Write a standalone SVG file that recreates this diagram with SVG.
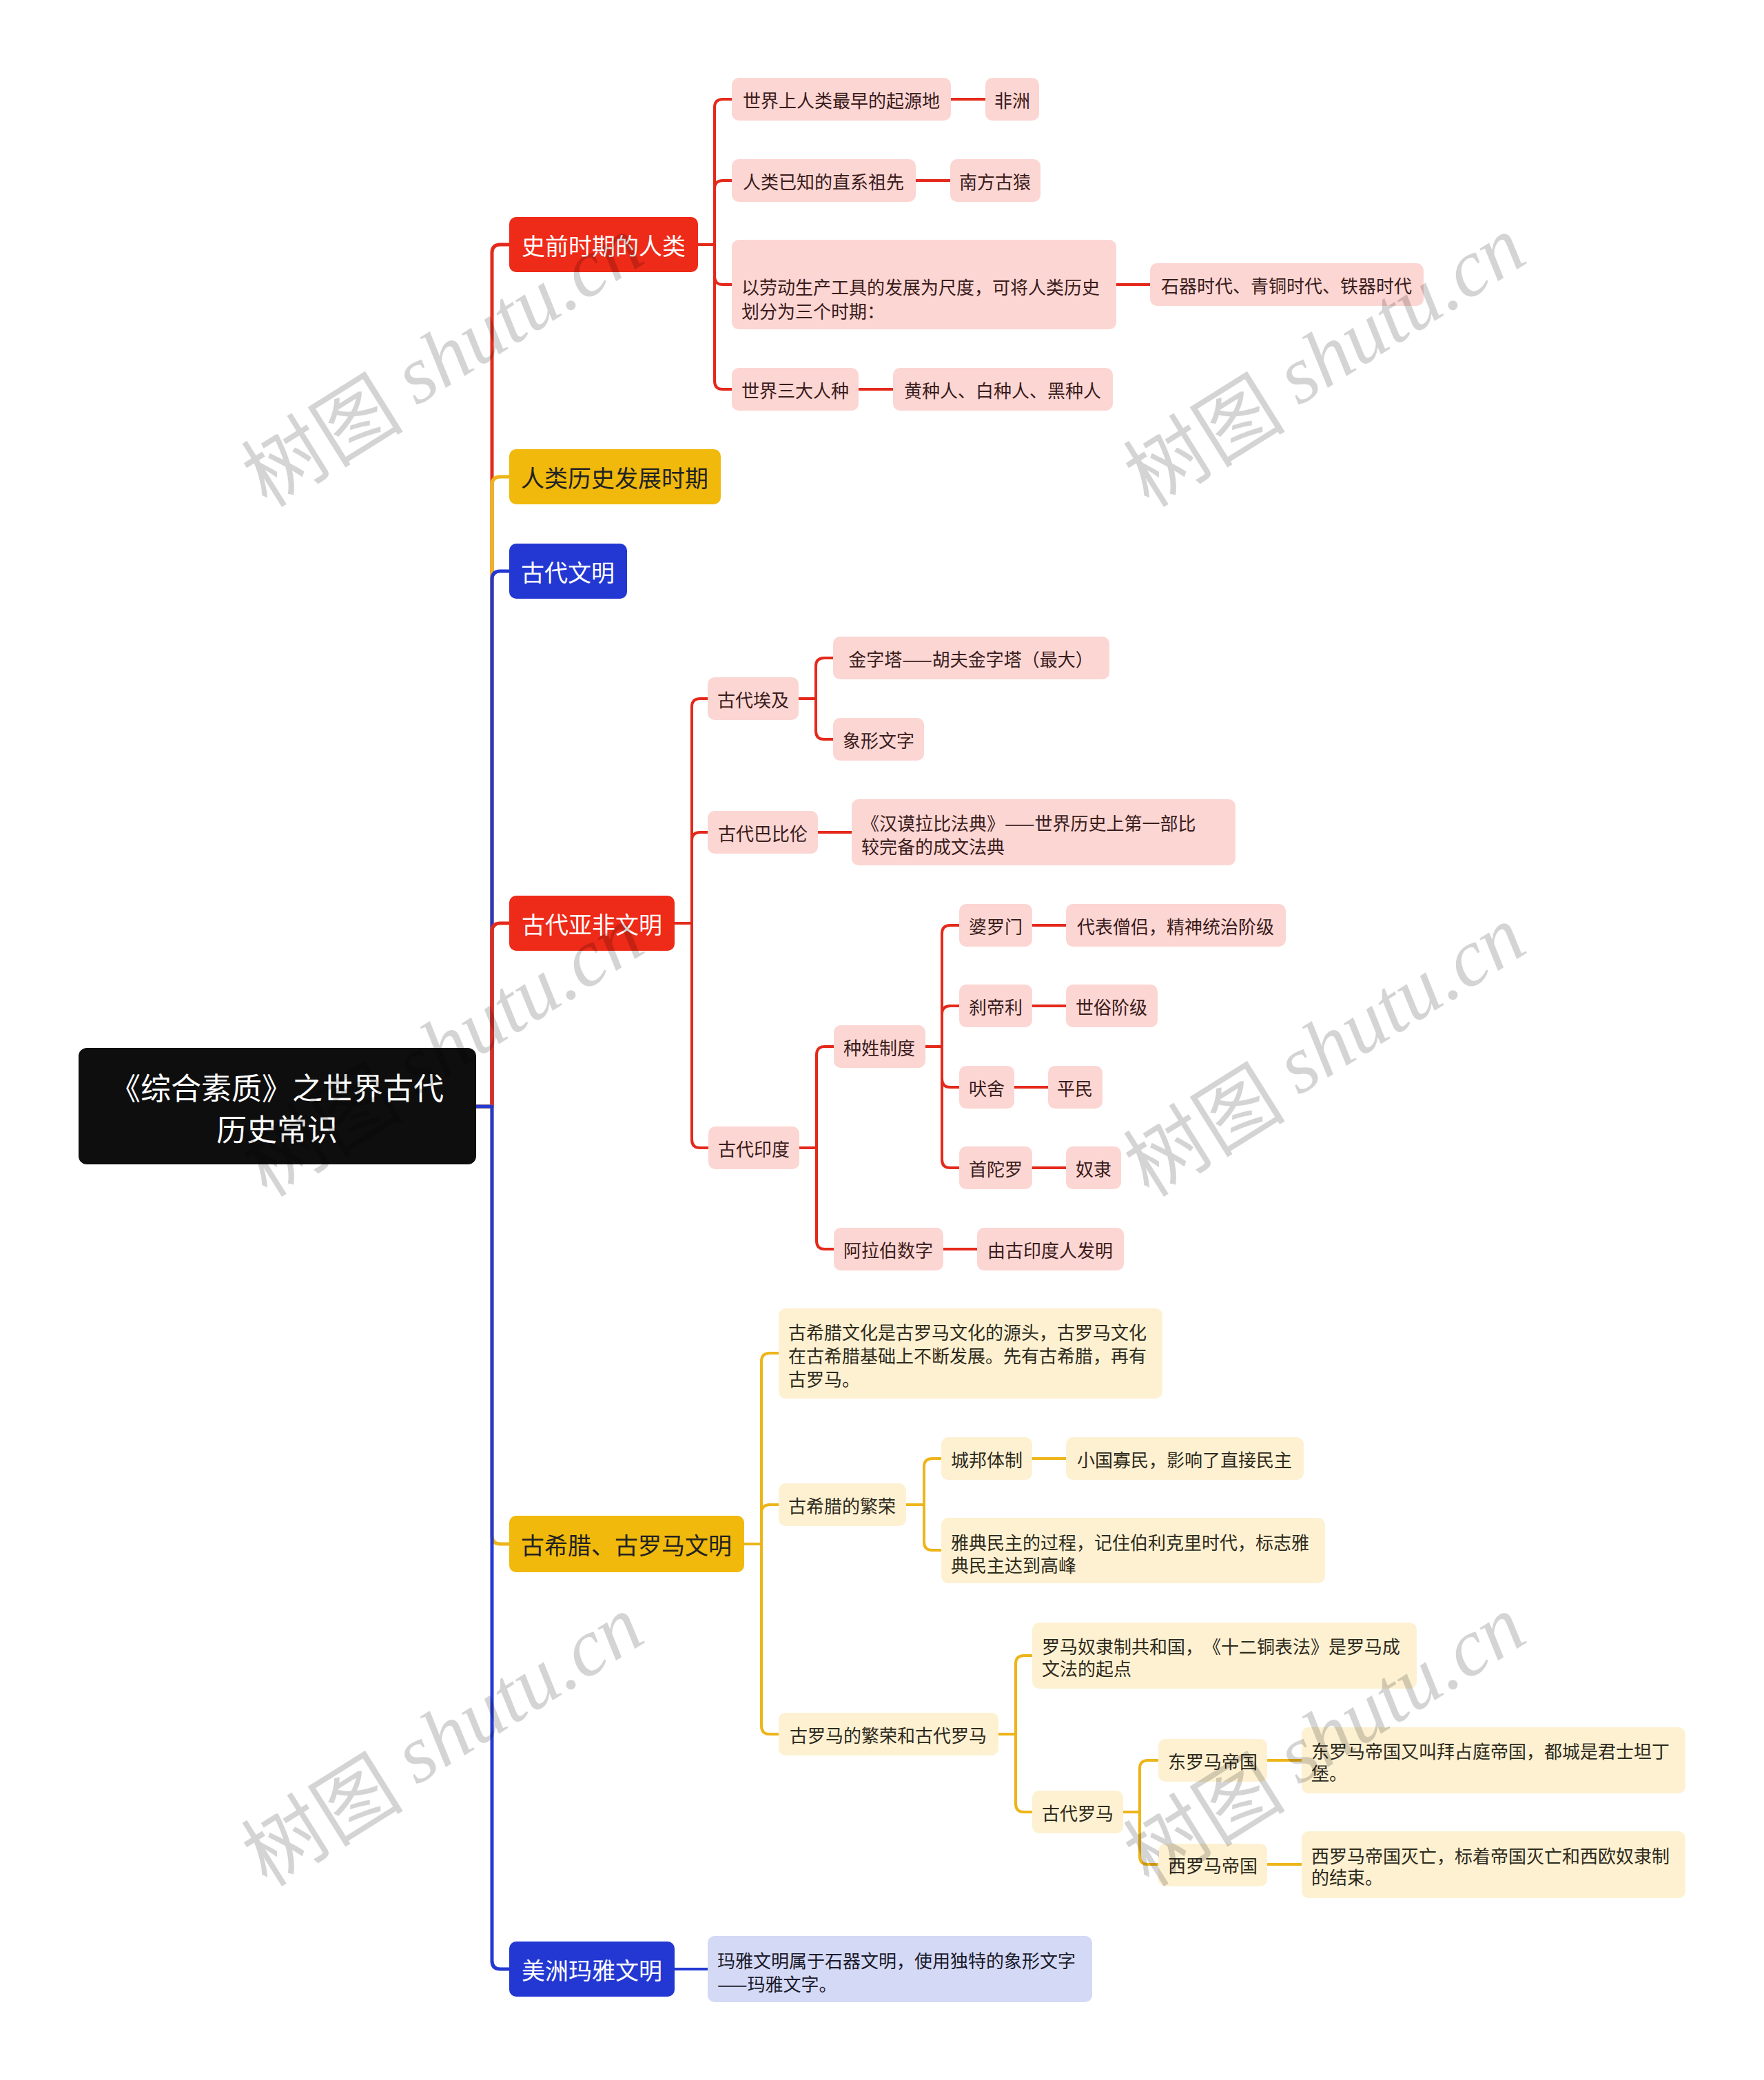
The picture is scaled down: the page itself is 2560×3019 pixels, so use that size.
<svg xmlns="http://www.w3.org/2000/svg" width="2560" height="3019" viewBox="0 0 2560 3019">
<style>
text{font-family:"Noto Sans CJK SC","Noto Sans",sans-serif;text-spacing-trim:space-all;}
.c{fill:none;stroke-linecap:round;stroke-linejoin:round}
.cm{stroke-width:5}
.cs{stroke-width:4}
.sr{stroke:#E4291B}
.sy{stroke:#EDB51A}
.sb{stroke:#2338D2}
.root{fill:#0E0E0E}
.mr{fill:#EE2A18}
.my{fill:#F0B90C}
.mb{fill:#2338D2}
.pk{fill:#FCD6D3}
.ly{fill:#FDF1D2}
.lb{fill:#D4D9F5}
.tw{fill:#FFFFFF;font-size:34px}
.td{fill:#222222;font-size:34px}
.tp{fill:#3A1C1C;font-size:26px}
.tyl{fill:#2E2A1C;font-size:26px}
.tbl{fill:#1A1A2A;font-size:26px}
.mid{text-anchor:middle;dominant-baseline:central}
.st{dominant-baseline:central}
.wm{fill:#000000;fill-opacity:0.17;font-size:118px}
</style>

<g id="connectors">
  <path class="c cm sr" d="M691,1606 H714 V367 Q714,355 726,355 H739"/>
  <path class="c cm sy" d="M691,1606 H714 V704 Q714,692 726,692 H739"/>
  <path class="c cm sb" d="M691,1606 H714 V841 Q714,829 726,829 H739"/>
  <path class="c cm sr" d="M691,1606 H714 V1352 Q714,1340 726,1340 H739"/>
  <path class="c cm sy" d="M691,1606 H714 V2229 Q714,2241 726,2241 H739"/>
  <path class="c cm sb" d="M691,1606 H714 V2846 Q714,2858 726,2858 H739"/>

  <path class="c cs sr" d="M1013,355 H1037 V156 Q1037,144 1049,144 H1062"/>
  <path class="c cs sr" d="M1013,355 H1037 V274 Q1037,262 1049,262 H1062"/>
  <path class="c cs sr" d="M1013,355 H1037 V401 Q1037,413 1049,413 H1062"/>
  <path class="c cs sr" d="M1013,355 H1037 V553 Q1037,565 1049,565 H1062"/>
  <path class="c cs sr" d="M1380,144 H1430"/>
  <path class="c cs sr" d="M1329,262 H1379"/>
  <path class="c cs sr" d="M1620,413 H1669"/>
  <path class="c cs sr" d="M1246,565 H1296"/>

  <path class="c cs sr" d="M979,1340 H1004 V1026 Q1004,1014 1016,1014 H1027"/>
  <path class="c cs sr" d="M979,1340 H1004 V1220 Q1004,1208 1016,1208 H1027"/>
  <path class="c cs sr" d="M979,1340 H1004 V1654 Q1004,1666 1016,1666 H1028"/>
  <path class="c cs sr" d="M1159,1014 H1184 V967 Q1184,955 1196,955 H1209"/>
  <path class="c cs sr" d="M1159,1014 H1184 V1061 Q1184,1073 1196,1073 H1209"/>
  <path class="c cs sr" d="M1187,1208 H1236"/>
  <path class="c cs sr" d="M1160,1666 H1185 V1531 Q1185,1519 1197,1519 H1210"/>
  <path class="c cs sr" d="M1160,1666 H1185 V1801 Q1185,1813 1197,1813 H1210"/>
  <path class="c cs sr" d="M1343,1519 H1367 V1355 Q1367,1343 1379,1343 H1392"/>
  <path class="c cs sr" d="M1343,1519 H1367 V1472 Q1367,1460 1379,1460 H1392"/>
  <path class="c cs sr" d="M1343,1519 H1367 V1566 Q1367,1578 1379,1578 H1392"/>
  <path class="c cs sr" d="M1343,1519 H1367 V1683 Q1367,1695 1379,1695 H1392"/>
  <path class="c cs sr" d="M1498,1343 H1547"/>
  <path class="c cs sr" d="M1498,1460 H1547"/>
  <path class="c cs sr" d="M1472,1578 H1521"/>
  <path class="c cs sr" d="M1498,1695 H1547"/>
  <path class="c cs sr" d="M1369,1813 H1418"/>

  <path class="c cs sy" d="M1080,2241 H1105 V1976 Q1105,1964 1117,1964 H1130"/>
  <path class="c cs sy" d="M1080,2241 H1105 V2196 Q1105,2184 1117,2184 H1130"/>
  <path class="c cs sy" d="M1080,2241 H1105 V2505 Q1105,2517 1117,2517 H1130"/>
  <path class="c cs sy" d="M1315,2184 H1341 V2129 Q1341,2117 1353,2117 H1366"/>
  <path class="c cs sy" d="M1315,2184 H1341 V2238 Q1341,2250 1353,2250 H1366"/>
  <path class="c cs sy" d="M1498,2117 H1547"/>
  <path class="c cs sy" d="M1449,2517 H1474 V2415 Q1474,2403 1486,2403 H1498"/>
  <path class="c cs sy" d="M1449,2517 H1474 V2618 Q1474,2630 1486,2630 H1498"/>
  <path class="c cs sy" d="M1630,2630 H1654 V2567 Q1654,2555 1666,2555 H1681"/>
  <path class="c cs sy" d="M1630,2630 H1654 V2694 Q1654,2706 1666,2706 H1681"/>
  <path class="c cs sy" d="M1839,2555 H1889"/>
  <path class="c cs sy" d="M1839,2706 H1889"/>

  <path class="c cs sb" d="M979,2858 H1027"/>
</g>

<g id="root"><rect class="root" x="114" y="1521" width="577" height="169" rx="12"/>
  <text class="tw mid" x="402" y="1577" style="font-size:44px">《综合素质》之世界古代</text>
  <text class="tw mid" x="402" y="1637" style="font-size:44px">历史常识</text></g>

<g id="n-shiqian"><rect class="mr" x="739" y="315" width="274" height="80" rx="10"/><text class="tw mid" x="876" y="355">史前时期的人类</text></g>
<g id="n-renlei"><rect class="my" x="739" y="652" width="307" height="80" rx="10"/><text class="td mid" x="892" y="692">人类历史发展时期</text></g>
<g id="n-gudai"><rect class="mb" x="739" y="789" width="171" height="80" rx="10"/><text class="tw mid" x="824" y="829">古代文明</text></g>
<g id="n-yafei"><rect class="mr" x="739" y="1300" width="240" height="80" rx="10"/><text class="tw mid" x="859" y="1340">古代亚非文明</text></g>
<g id="n-xila"><rect class="my" x="739" y="2200" width="341" height="82" rx="10"/><text class="td mid" x="909" y="2241">古希腊、古罗马文明</text></g>
<g id="n-maya"><rect class="mb" x="739" y="2818" width="240" height="80" rx="10"/><text class="tw mid" x="859" y="2858">美洲玛雅文明</text></g>

<g id="n-qiyuan"><rect class="pk" x="1062" y="113" width="318" height="62" rx="10"/><text class="tp mid" x="1221" y="144">世界上人类最早的起源地</text></g>
<g id="n-feizhou"><rect class="pk" x="1430" y="113" width="78" height="62" rx="10"/><text class="tp mid" x="1469" y="144">非洲</text></g>
<g id="n-zuxian"><rect class="pk" x="1062" y="231" width="267" height="62" rx="10"/><text class="tp mid" x="1195" y="262">人类已知的直系祖先</text></g>
<g id="n-nanfang"><rect class="pk" x="1379" y="231" width="131" height="62" rx="10"/><text class="tp mid" x="1444" y="262">南方古猿</text></g>
<g id="n-laodong"><rect class="pk" x="1062" y="348" width="558" height="130" rx="10"/>
  <text class="tp st" x="1076" y="415">以劳动生产工具的发展为尺度，可将人类历史</text>
  <text class="tp st" x="1076" y="450">划分为三个时期：</text></g>
<g id="n-shiqi"><rect class="pk" x="1669" y="382" width="397" height="62" rx="10"/><text class="tp mid" x="1867" y="413">石器时代、青铜时代、铁器时代</text></g>
<g id="n-renzhong"><rect class="pk" x="1062" y="534" width="184" height="62" rx="10"/><text class="tp mid" x="1154" y="565">世界三大人种</text></g>
<g id="n-huang"><rect class="pk" x="1296" y="534" width="319" height="62" rx="10"/><text class="tp mid" x="1455" y="565">黄种人、白种人、黑种人</text></g>

<g id="n-aiji"><rect class="pk" x="1027" y="983" width="132" height="62" rx="10"/><text class="tp mid" x="1093" y="1014">古代埃及</text></g>
<g id="n-jinzita"><rect class="pk" x="1209" y="924" width="401" height="62" rx="10"/><text class="tp mid" x="1409" y="955">金字塔——胡夫金字塔（最大）</text></g>
<g id="n-xiangxing"><rect class="pk" x="1209" y="1042" width="132" height="62" rx="10"/><text class="tp mid" x="1275" y="1073">象形文字</text></g>
<g id="n-babilun"><rect class="pk" x="1027" y="1177" width="160" height="62" rx="10"/><text class="tp mid" x="1107" y="1208">古代巴比伦</text></g>
<g id="n-fadian"><rect class="pk" x="1236" y="1160" width="557" height="96" rx="10"/>
  <text class="tp st" x="1250" y="1193">《汉谟拉比法典》——世界历史上第一部比</text>
  <text class="tp st" x="1250" y="1227">较完备的成文法典</text></g>
<g id="n-yindu"><rect class="pk" x="1028" y="1635" width="132" height="62" rx="10"/><text class="tp mid" x="1094" y="1666">古代印度</text></g>
<g id="n-zhongxing"><rect class="pk" x="1210" y="1488" width="133" height="62" rx="10"/><text class="tp mid" x="1276" y="1519">种姓制度</text></g>
<g id="n-alabo"><rect class="pk" x="1210" y="1782" width="159" height="62" rx="10"/><text class="tp mid" x="1289" y="1813">阿拉伯数字</text></g>
<g id="n-faming"><rect class="pk" x="1418" y="1782" width="213" height="62" rx="10"/><text class="tp mid" x="1524" y="1813">由古印度人发明</text></g>
<g id="n-poluomen"><rect class="pk" x="1392" y="1312" width="106" height="62" rx="10"/><text class="tp mid" x="1445" y="1343">婆罗门</text></g>
<g id="n-sengl"><rect class="pk" x="1547" y="1312" width="319" height="62" rx="10"/><text class="tp mid" x="1706" y="1343">代表僧侣，精神统治阶级</text></g>
<g id="n-chadili"><rect class="pk" x="1392" y="1429" width="106" height="62" rx="10"/><text class="tp mid" x="1445" y="1460">刹帝利</text></g>
<g id="n-shisu"><rect class="pk" x="1547" y="1429" width="133" height="62" rx="10"/><text class="tp mid" x="1613" y="1460">世俗阶级</text></g>
<g id="n-feishe"><rect class="pk" x="1392" y="1547" width="80" height="62" rx="10"/><text class="tp mid" x="1432" y="1578">吠舍</text></g>
<g id="n-pingmin"><rect class="pk" x="1521" y="1547" width="79" height="62" rx="10"/><text class="tp mid" x="1560" y="1578">平民</text></g>
<g id="n-shoutuo"><rect class="pk" x="1392" y="1664" width="106" height="62" rx="10"/><text class="tp mid" x="1445" y="1695">首陀罗</text></g>
<g id="n-nuli"><rect class="pk" x="1547" y="1664" width="80" height="62" rx="10"/><text class="tp mid" x="1587" y="1695">奴隶</text></g>

<g id="n-xilawenhua"><rect class="ly" x="1130" y="1899" width="557" height="131" rx="10"/>
  <text class="tyl st" x="1144" y="1932">古希腊文化是古罗马文化的源头，古罗马文化</text>
  <text class="tyl st" x="1144" y="1966">在古希腊基础上不断发展。先有古希腊，再有</text>
  <text class="tyl st" x="1144" y="2000">古罗马。</text></g>
<g id="n-xilafanrong"><rect class="ly" x="1130" y="2153" width="185" height="62" rx="10"/><text class="tyl mid" x="1222" y="2184">古希腊的繁荣</text></g>
<g id="n-chengbang"><rect class="ly" x="1366" y="2086" width="132" height="62" rx="10"/><text class="tyl mid" x="1432" y="2117">城邦体制</text></g>
<g id="n-xiaoguo"><rect class="ly" x="1547" y="2086" width="345" height="62" rx="10"/><text class="tyl mid" x="1719" y="2117">小国寡民，影响了直接民主</text></g>
<g id="n-yadian"><rect class="ly" x="1366" y="2203" width="557" height="95" rx="10"/>
  <text class="tyl st" x="1380" y="2237">雅典民主的过程，记住伯利克里时代，标志雅</text>
  <text class="tyl st" x="1380" y="2270">典民主达到高峰</text></g>
<g id="n-luomafanrong"><rect class="ly" x="1130" y="2486" width="319" height="62" rx="10"/><text class="tyl mid" x="1289" y="2517">古罗马的繁荣和古代罗马</text></g>
<g id="n-gongheguo"><rect class="ly" x="1498" y="2355" width="558" height="96" rx="10"/>
  <text class="tyl st" x="1512" y="2388">罗马奴隶制共和国，《十二铜表法》是罗马成</text>
  <text class="tyl st" x="1512" y="2420">文法的起点</text></g>
<g id="n-gudailuoma"><rect class="ly" x="1498" y="2599" width="132" height="62" rx="10"/><text class="tyl mid" x="1564" y="2630">古代罗马</text></g>
<g id="n-dongluoma"><rect class="ly" x="1681" y="2524" width="158" height="62" rx="10"/><text class="tyl mid" x="1760" y="2555">东罗马帝国</text></g>
<g id="n-baizhanting"><rect class="ly" x="1889" y="2507" width="557" height="96" rx="10"/>
  <text class="tyl st" x="1903" y="2540">东罗马帝国又叫拜占庭帝国，都城是君士坦丁</text>
  <text class="tyl st" x="1903" y="2572">堡。</text></g>
<g id="n-xiluoma"><rect class="ly" x="1681" y="2676" width="158" height="62" rx="10"/><text class="tyl mid" x="1760" y="2706">西罗马帝国</text></g>
<g id="n-miewang"><rect class="ly" x="1889" y="2658" width="557" height="97" rx="10"/>
  <text class="tyl st" x="1903" y="2692">西罗马帝国灭亡，标着帝国灭亡和西欧奴隶制</text>
  <text class="tyl st" x="1903" y="2723">的结束。</text></g>

<g id="n-mayawenzi"><rect class="lb" x="1027" y="2810" width="558" height="96" rx="10"/>
  <text class="tbl st" x="1041" y="2844">玛雅文明属于石器文明，使用独特的象形文字</text>
  <text class="tbl st" x="1041" y="2878">——玛雅文字。</text></g>

<g id="watermarks">
  <text class="wm mid" transform="translate(640,520) rotate(-32)">树图 <tspan style="font-family:'Liberation Serif',serif;font-style:italic">shutu.cn</tspan></text>
  <text class="wm mid" transform="translate(1920,520) rotate(-32)">树图 <tspan style="font-family:'Liberation Serif',serif;font-style:italic">shutu.cn</tspan></text>
  <text class="wm mid" transform="translate(640,1521) rotate(-32)">树图 <tspan style="font-family:'Liberation Serif',serif;font-style:italic">shutu.cn</tspan></text>
  <text class="wm mid" transform="translate(1920,1521) rotate(-32)">树图 <tspan style="font-family:'Liberation Serif',serif;font-style:italic">shutu.cn</tspan></text>
  <text class="wm mid" transform="translate(640,2522) rotate(-32)">树图 <tspan style="font-family:'Liberation Serif',serif;font-style:italic">shutu.cn</tspan></text>
  <text class="wm mid" transform="translate(1920,2522) rotate(-32)">树图 <tspan style="font-family:'Liberation Serif',serif;font-style:italic">shutu.cn</tspan></text>
</g>
</svg>
